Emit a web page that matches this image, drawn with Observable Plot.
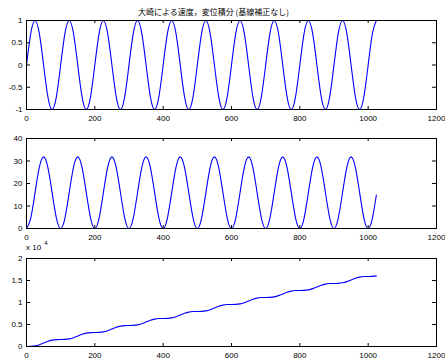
<!DOCTYPE html>
<html><head><meta charset="utf-8">
<script src="https://cdn.jsdelivr.net/npm/d3@7"></script>
<script src="https://cdn.jsdelivr.net/npm/@observablehq/plot@0.6"></script>
<style>
html,body{margin:0;padding:0;background:#fff;}
#wrap{position:relative;width:445px;height:363px;overflow:hidden;background:#fff;font-family:"Liberation Sans",Arial,sans-serif;}
#title{position:absolute;left:0;width:427px;top:7px;line-height:10px;text-align:center;font-family:"Noto Sans CJK JP",sans-serif;font-size:8px;color:#000;white-space:nowrap;}
#exp{position:absolute;left:26px;top:243px;line-height:10px;font-size:8px;color:#000;}
#exp sup{font-size:6px;position:relative;top:-5px;vertical-align:baseline;margin-left:3px;}
.plot{position:absolute;left:0;}
</style>
</head><body>
<div id="wrap">
<div id="title">大崎による速度，変位積分 (基線補正なし)</div>
</div>
<script>
// sample positions (index)
const xs = [0,12.5,25,37.5,50,62.5,75,87.5,100,112.5,125,137.5,150,162.5,175,187.5,200,212.5,225,237.5,250,262.5,275,287.5,300,312.5,325,337.5,350,362.5,375,387.5,400,412.5,425,437.5,450,462.5,475,487.5,500,512.5,525,537.5,550,562.5,575,587.5,600,612.5,625,637.5,650,662.5,675,687.5,700,712.5,725,737.5,750,762.5,775,787.5,800,812.5,825,837.5,850,862.5,875,887.5,900,912.5,925,937.5,950,962.5,975,987.5,1000,1012.5,1024];
// acceleration (top)
const accel = [0,0.71,1,0.71,0,-0.71,-1,-0.71, 0,0.71,1,0.71,0,-0.71,-1,-0.71, 0,0.71,1,0.71,0,-0.71,-1,-0.71, 0,0.71,1,0.71,0,-0.71,-1,-0.71, 0,0.71,1,0.71,0,-0.71,-1,-0.71, 0,0.71,1,0.71,0,-0.71,-1,-0.71, 0,0.71,1,0.71,0,-0.71,-1,-0.71, 0,0.71,1,0.71,0,-0.71,-1,-0.71, 0,0.71,1,0.71,0,-0.71,-1,-0.71, 0,0.71,1,0.71,0,-0.71,-1,-0.71, 0,0.71,1];
// velocity (middle)
const veloc = [0,4.66,15.92,27.17,31.83,27.17,15.92,4.66, 0,4.66,15.92,27.17,31.83,27.17,15.92,4.66, 0,4.66,15.92,27.17,31.83,27.17,15.92,4.66, 0,4.66,15.92,27.17,31.83,27.17,15.92,4.66, 0,4.66,15.92,27.17,31.83,27.17,15.92,4.66, 0,4.66,15.92,27.17,31.83,27.17,15.92,4.66, 0,4.66,15.92,27.17,31.83,27.17,15.92,4.66, 0,4.66,15.92,27.17,31.83,27.17,15.92,4.66, 0,4.66,15.92,27.17,31.83,27.17,15.92,4.66, 0,4.66,15.92,27.17,31.83,27.17,15.92,4.66, 0,4.66,14.9];
// displacement (bottom), in units of 10^4
const displ = [0,0.0020,0.0145,0.0418,0.0796,0.1174,0.1447,0.1572,
 0.1592,0.1612,0.1737,0.2010,0.2388,0.2766,0.3039,0.3164,
 0.3183,0.3203,0.3328,0.3601,0.3979,0.4357,0.4630,0.4755,
 0.4775,0.4795,0.4920,0.5193,0.5571,0.5949,0.6222,0.6347,
 0.6366,0.6386,0.6511,0.6784,0.7162,0.7540,0.7813,0.7938,
 0.7958,0.7978,0.8103,0.8376,0.8754,0.9132,0.9405,0.9530,
 0.9549,0.9569,0.9694,0.9967,1.0345,1.0723,1.0996,1.1121,
 1.1141,1.1161,1.1286,1.1559,1.1937,1.2315,1.2588,1.2713,
 1.2732,1.2752,1.2877,1.3150,1.3528,1.3906,1.4179,1.4304,
 1.4324,1.4344,1.4469,1.4742,1.5120,1.5498,1.5771,1.5896,
 1.5915,1.5935,1.6045];
const xTicks = [0,200,400,600,800,1000,1200];
const yTicks1 = [-1,-0.5,0,0.5,1];
const yTicks2 = [0,10,20,30,40];
const yTicks3 = [0,0.5,1,1.5,2];

const wrap = document.getElementById("wrap");
function panel(values, yDomain, yTicks, top, mt, ih, mb) {
  const W = 410;
  const data = xs.map((x, i) => ({x, y: values[i]}));
  const fmt = d => String(d);
  const p = Plot.plot({
    width: 445, height: mt + ih + mb,
    marginTop: mt, marginBottom: mb, marginLeft: 26, marginRight: 9,
    style: {fontSize: "8px", fontFamily: "Liberation Sans, Arial, sans-serif", background: "transparent", color: "black", overflow: "visible"},
    x: {domain: [0, 1200], label: null},
    y: {domain: yDomain, label: null},
    marks: [
      Plot.line(data, {x: "x", y: "y", stroke: "#0000ff", strokeWidth: 1.1, curve: "natural"}),
      Plot.axisX(xTicks, {anchor: "bottom", tickSize: 0, tickPadding: 6, tickFormat: fmt, label: null}),
      Plot.axisY(yTicks, {anchor: "left", tickSize: 0, tickPadding: 4, tickFormat: fmt, label: null}),
      Plot.tickX(xTicks, {x: d => d, stroke: "black", insetTop: ih - 3}),
      Plot.tickX(xTicks, {x: d => d, stroke: "black", insetBottom: ih - 3}),
      Plot.tickY(yTicks, {y: d => d, stroke: "black", insetRight: W - 4}),
      Plot.tickY(yTicks, {y: d => d, stroke: "black", insetLeft: W - 4}),
      Plot.frame({stroke: "black", strokeWidth: 1})
    ]
  });
  p.classList.add("plot");
  p.style.top = top + "px";
  wrap.appendChild(p);
}
panel(accel, [-1, 1], yTicks1, 14, 6, 89, 14);
panel(veloc, [0, 40], yTicks2, 123, 15, 90, 14);
panel(displ, [0, 2], yTicks3, 242, 16, 88, 17);

const exp = document.createElement("div");
exp.id = "exp";
exp.innerHTML = "x 10<sup>4</sup>";
wrap.appendChild(exp);
</script>
</body></html>
